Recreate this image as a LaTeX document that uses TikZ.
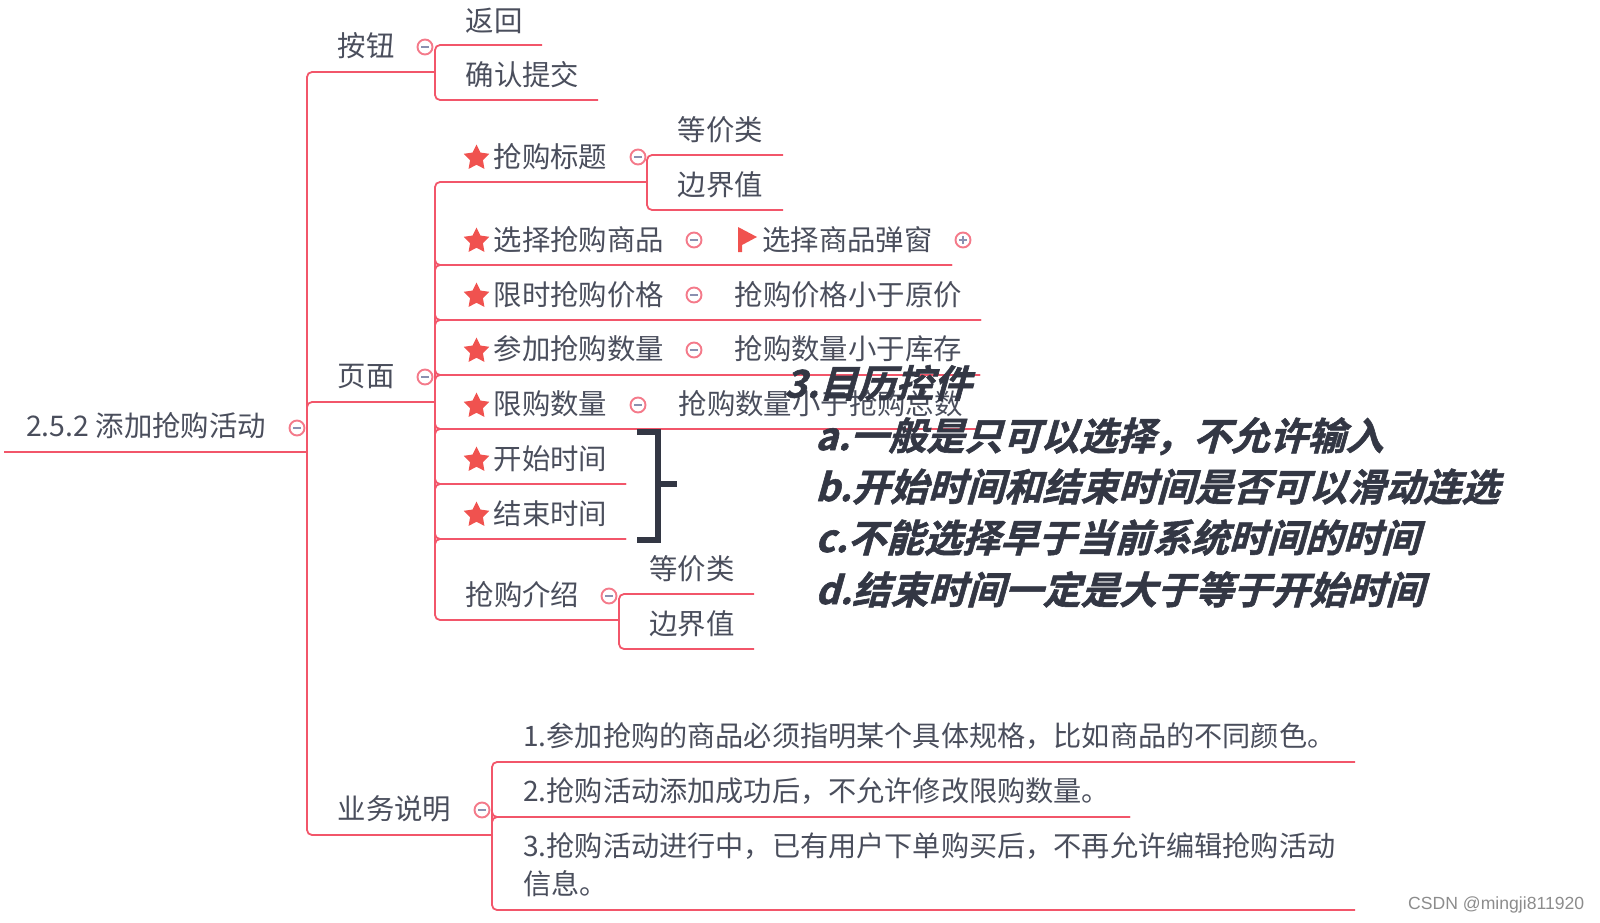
\documentclass[tikz,border=0pt]{standalone}
\usepackage{fontspec}
\usetikzlibrary{shapes.geometric}
\setmainfont{Noto Sans CJK SC}
\newfontfamily\slantcjk[FakeSlant=0.28,FakeBold=1.5]{Noto Sans CJK SC Bold}
\newfontfamily\wmfont{Liberation Sans}
\definecolor{linkred}{HTML}{F2566A}
\definecolor{tx}{HTML}{4A4E5C}
\definecolor{inkdark}{HTML}{333744}
\definecolor{starred}{HTML}{F0524F}
\definecolor{ringred}{HTML}{F47A8A}
\definecolor{dashblue}{HTML}{8A90B0}
\tikzset{
  link/.style={draw=linkred,line width=1.8pt,rounded corners=5pt},
  lbl/.style={anchor=west,inner sep=0pt,text=tx,font=\fontsize{28.4}{28.4}\selectfont,text height=22pt,text depth=4pt},
  lblb/.style={lbl,font=\fontsize{28.17}{28.17}\selectfont},
  hand/.style={anchor=west,inner sep=0pt,text=inkdark,font=\fontsize{38.1}{38.1}\slantcjk,text height=30pt,text depth=6pt},
  ringnode/.style={circle,draw=ringred,line width=1.9pt,minimum size=15pt,inner sep=0pt,fill=white},
  starnode/.style={star,star points=5,star point ratio=2.0,fill=starred,draw=none,minimum size=27pt,inner sep=0pt},
  bracket/.style={draw=inkdark,line width=5.5pt}
}
\newcommand{\minusring}[2]{\node[ringnode] (#1) at (#2) {}; \draw[dashblue,line width=1.3pt] ([xshift=-4pt]#1.center) -- ([xshift=4pt]#1.center);}
\begin{document}
\begin{tikzpicture}[x=1pt,y=-1pt]
\useasboundingbox (0,0) rectangle (1600,923);
% junction and free-end coordinates
\coordinate (r0) at (4,452);
\coordinate (r1) at (307,452);
\coordinate (ta) at (435,72);
\coordinate (tb) at (435,402);
\coordinate (tc) at (492,835);
\coordinate (tbjoin) at (307,414);
\coordinate (a1) at (542,45);
\coordinate (a2) at (598,100);
\coordinate (p1) at (647,182);
\coordinate (p1a) at (783,155);
\coordinate (p1b) at (783,210);
\coordinate (p2) at (952,265);
\coordinate (p3) at (981,320);
\coordinate (p4) at (980,375);
\coordinate (p5) at (980,429);
\coordinate (p6) at (626,484);
\coordinate (p7) at (626,539);
\coordinate (p8) at (619,620);
\coordinate (p8a) at (754,594);
\coordinate (p8b) at (754,649);
\coordinate (c1) at (1355,762);
\coordinate (c2) at (1130,817);
\coordinate (c3) at (1355,910);
\coordinate (bt) at (637,432);
\coordinate (bb) at (637,540);
\coordinate (bm) at (677,484);
\coordinate (bv) at (658,484);
% connectors
\draw[link] (r0) -- (r1);
\draw[link] (ta) -- (ta -| r1) -- (tc -| r1) -- (tc);
\draw[link] (tb) -- (tb -| r1) -- (tbjoin);
\draw[link] (a1) -- (a1 -| ta) -- (a2 -| ta) -- (a2);
\draw[link] (p1) -- (p1 -| ta) -- (p8 -| ta) -- (p8);
\foreach \e in {p2,p3,p4,p5,p6,p7}{
  \draw[link] (\e) -- (\e -| ta) -- ([yshift=-7pt]\e -| ta);
  \draw[link] (\e) -- (\e -| ta) -- ([yshift=7pt]\e -| ta);
}
\draw[link] (p1a) -- (p1a -| p1) -- (p1b -| p1) -- (p1b);
\draw[link] (p8a) -- (p8a -| p8) -- (p8b -| p8) -- (p8b);
\draw[link] (c1) -- (c1 -| tc) -- (c3 -| tc) -- (c3);
\draw[link] (c2) -- (c2 -| tc) -- ([yshift=-7pt]c2 -| tc);
\draw[link] (c2) -- (c2 -| tc) -- ([yshift=7pt]c2 -| tc);
% labels
\node[lbl] (root) at (26,427.5) {2.5.2 添加抢购活动};
\node[lbl] (btn) at (337.5,48) {按钮};
\node[lbl] (back) at (465.5,22.5) {返回};
\node[lbl] (confirm) at (465.5,76.5) {确认提交};
\node[lbl] (page) at (337.5,377.5) {页面};
\node[lbl] (title) at (493.5,158) {抢购标题};
\node[lbl] (eq1) at (677.5,131.5) {等价类};
\node[lbl] (bd1) at (677.5,186) {边界值};
\node[lbl] (goods) at (493.5,241) {选择抢购商品};
\node[lbl] (popup) at (762,241) {选择商品弹窗};
\node[lbl] (price) at (493.5,296) {限时抢购价格};
\node[lbl] (pricec) at (734.5,296) {抢购价格小于原价};
\node[lbl] (qty) at (493.5,350.5) {参加抢购数量};
\node[lbl] (qtyc) at (734.5,350.5) {抢购数量小于库存};
\node[lbl] (lim) at (493.5,405.5) {限购数量};
\node[lbl] (limc) at (678.5,405.5) {抢购数量小于抢购总数};
\node[lbl] (start) at (493.5,460) {开始时间};
\node[lbl] (end) at (493.5,515) {结束时间};
\node[lbl] (intro) at (465.5,596) {抢购介绍};
\node[lbl] (eq2) at (649,570) {等价类};
\node[lbl] (bd2) at (649,625) {边界值};
\node[lbl] (biz) at (337.5,810.5) {业务说明};
\node[lblb] (b1) at (523,737) {1.参加抢购的商品必须指明某个具体规格，比如商品的不同颜色。};
\node[lblb] (b2) at (523,792) {2.抢购活动添加成功后，不允许修改限购数量。};
\node[lblb] (b3) at (523,847) {3.抢购活动进行中，已有用户下单购买后，不再允许编辑抢购活动};
\node[lblb] (b3b) at (523,885) {信息。};
% stars
\foreach \n/\y in {s1/158,s2/241,s3/296,s4/351,s5/406,s6/460,s7/515}{
  \node[starnode] (\n) at (476.5,\y) {};
}
% flag
\fill[starred] (738,227) -- (757,237) -- (742,245) -- (742,252) -- (738,252) -- cycle;
% collapse rings
\minusring{m0}{297,428}
\minusring{m1}{425,47}
\minusring{m2}{425,377}
\minusring{m3}{638,157}
\minusring{m4}{694,240}
\minusring{m5}{694,295}
\minusring{m6}{694,350}
\minusring{m7}{638,405}
\minusring{m8}{609,596}
\minusring{m9}{482,810}
\minusring{m10}{963,240}
\draw[dashblue,line width=1.3pt] ([yshift=-4pt]m10.center) -- ([yshift=4pt]m10.center);
% bracket
\draw[bracket] (bt) -| (bb -| bv) -- (bb);
\draw[bracket] (bv) -- (bm);
% hand-written overlay
\node[hand] (h0) at (784,385.5) {3.目历控件};
\node[hand] (ha) at (815,438) {a.一般是只可以选择，不允许输入};
\node[hand] (hb) at (815,489) {b.开始时间和结束时间是否可以滑动连选};
\node[hand] (hc) at (815,540) {c.不能选择早于当前系统时间的时间};
\node[hand] (hd) at (815,592) {d.结束时间一定是大于等于开始时间};
% watermark
\node[anchor=west,inner sep=0pt,text=black!45,font=\fontsize{17.6}{17.6}\wmfont] (wm) at (1408,905) {CSDN @mingji811920};
\end{tikzpicture}
\end{document}
